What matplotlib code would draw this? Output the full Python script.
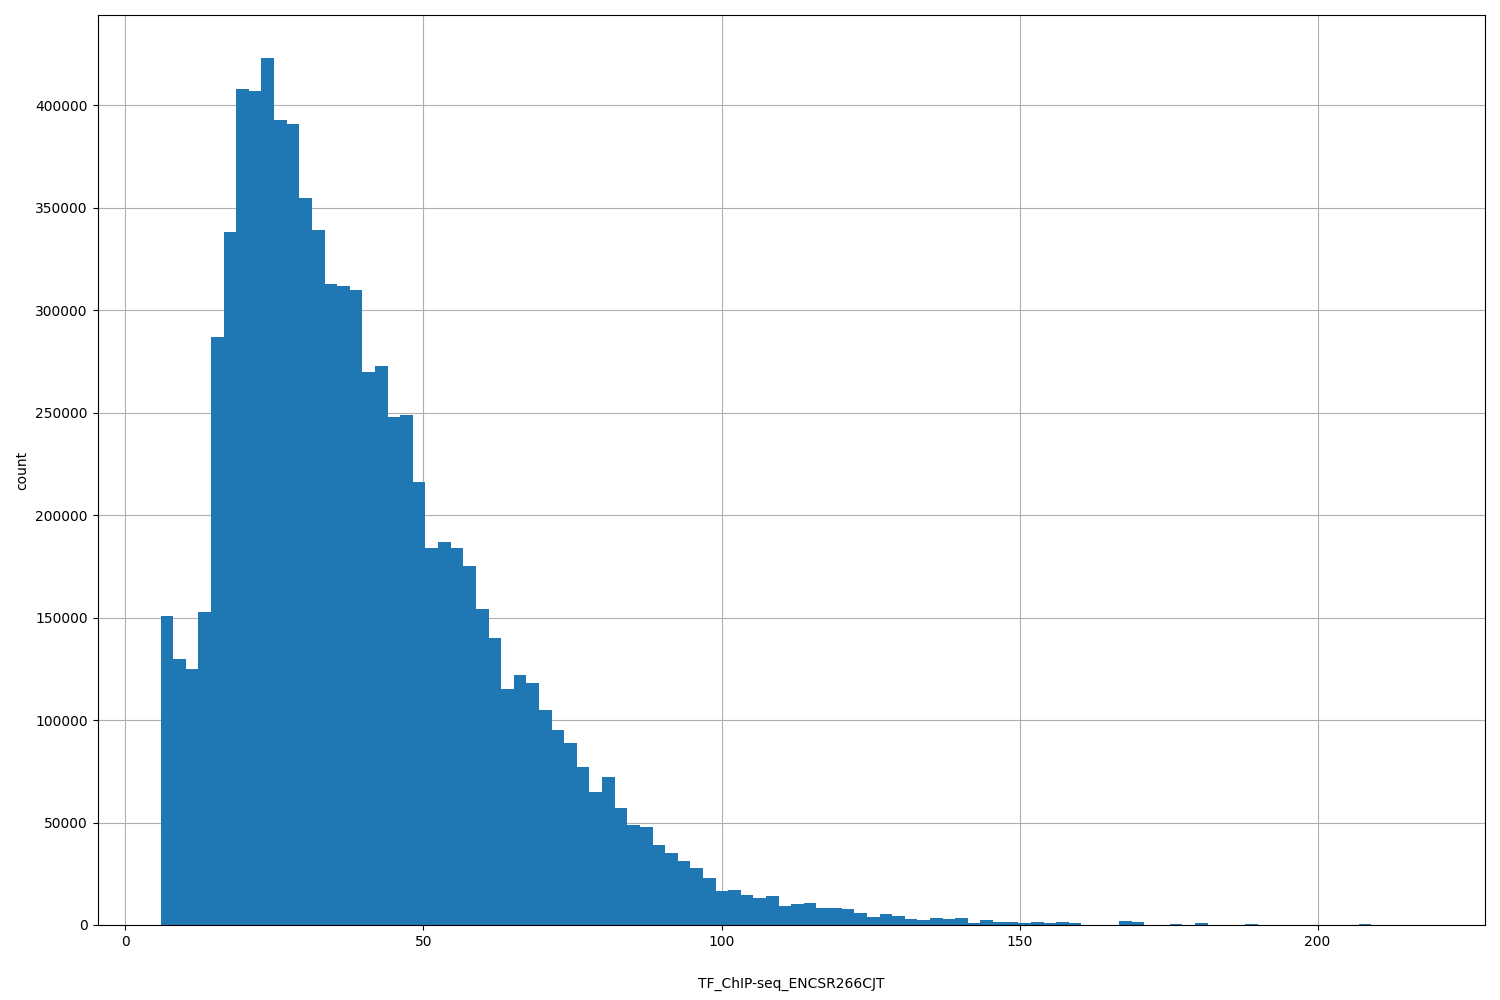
import numpy as np
import matplotlib

matplotlib.use("Agg")
import matplotlib.pyplot as plt  # noqa: E402

X_MIN = 5.9
X_MAX = 217.5
N_BINS = 100

COUNTS = [
    151000, 130000, 125000, 153000, 287000, 338000, 408000, 407000, 423000, 393000,
    391000, 355000, 339000, 313000, 312000, 310000, 270000, 273000, 248000, 249000,
    216000, 184000, 187000, 184000, 175000, 154000, 140000, 115000, 122000, 118000,
    105000, 95000, 89000, 77000, 65000, 72000, 57000, 49000, 48000, 39000,
    35000, 31000, 28000, 23000, 16600, 17100, 14700, 13200, 14200, 9300,
    10300, 10800, 8300, 8300, 7800, 5900, 3900, 5400, 4400, 2900,
    2400, 3400, 2900, 3400, 1000, 2400, 1500, 1500, 1000, 1500,
    1000, 1500, 1000, 0, 0, 0, 2000, 1500, 0, 0,
    500, 0, 1000, 0, 0, 0, 500, 0, 0, 0,
    0, 0, 0, 0, 0, 500, 0, 0, 0, 100,
]

edges = np.linspace(X_MIN, X_MAX, N_BINS + 1)
centers = (edges[:-1] + edges[1:]) / 2

fig, ax = plt.subplots(figsize=(15, 10), dpi=100)
ax.hist(centers, bins=edges, weights=COUNTS, color="#1f77b4")
ax.grid(True)
ax.set_axisbelow(True)
ax.set_xlabel("TF_ChIP-seq_ENCSR266CJT", labelpad=20)
ax.set_ylabel("count")
fig.subplots_adjust(left=0.065, right=0.99, top=0.985, bottom=0.075)
fig.savefig("out.png")
